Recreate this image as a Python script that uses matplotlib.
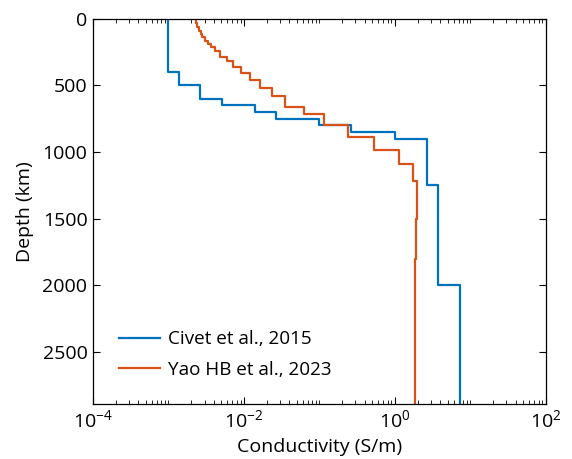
import numpy as np
import matplotlib
matplotlib.use("Agg")
import matplotlib.pyplot as plt
from matplotlib.ticker import LogLocator, NullFormatter, FixedLocator

plt.rcParams['font.family'] = ['Open Sans', 'DejaVu Sans']
plt.rcParams['mathtext.fontset'] = 'custom'
plt.rcParams['mathtext.rm'] = 'Open Sans'

# Civet et al., 2015: layer tops (km) and log10 conductivity (S/m)
civet_top = [0, 400, 500, 600, 650, 700, 750, 800, 850, 900, 1250, 2000]
civet_logsig = [-3.0, -2.86, -2.58, -2.29, -1.86, -1.58, -1.0, -0.58, 0.0, 0.43, 0.57, 0.857]

# Yao HB et al., 2023
yao_top = [0, 30, 60, 90, 115, 140, 165, 190, 215, 245, 285, 317, 360, 410, 460,
           522, 577, 660, 715, 800, 885, 985, 1092, 1215, 1500, 1800, 2200, 2600]
yao_logsig = [-2.64, -2.62, -2.60, -2.575, -2.55, -2.52, -2.48, -2.44, -2.38, -2.32,
              -2.22, -2.15, -2.04, -1.925, -1.79, -1.63, -1.45, -1.21, -0.94, -0.62,
              -0.28, 0.05, 0.245, 0.29, 0.28, 0.27, 0.265, 0.26]

bottom_depth = 2890


def staircase(tops, logsig):
    # vertical segment for each layer, joined by horizontal steps
    edges = list(tops) + [bottom_depth]
    x = np.repeat(10.0 ** np.array(logsig), 2)
    y = []
    for i in range(len(tops)):
        y += [edges[i], edges[i + 1]]
    return x, np.array(y)


fig = plt.figure(figsize=(5.72, 4.59), dpi=100)
ax = fig.add_axes([0.1626, 0.1198, 0.7918, 0.8395])

x, y = staircase(civet_top, civet_logsig)
ax.plot(x, y, color='#0072BD', lw=1.6, label='Civet et al., 2015')
x, y = staircase(yao_top, yao_logsig)
ax.plot(x, y, color='#D95319', lw=1.6, label='Yao HB et al., 2023')

ax.set_xscale('log')
ax.set_xlim(1e-4, 1e2)
ax.set_ylim(bottom_depth, 0)
ax.set_yticks([0, 500, 1000, 1500, 2000, 2500])

ax.xaxis.set_major_locator(FixedLocator([1e-4, 1e-2, 1e0, 1e2]))
ax.xaxis.set_minor_locator(LogLocator(base=10, subs=np.arange(1, 10), numticks=20))
ax.xaxis.set_minor_formatter(NullFormatter())
ax.set_xticklabels([r'$10^{-4}$', r'$10^{-2}$', r'$10^{0}$', r'$10^{2}$'])

ax.tick_params(which='both', direction='in', top=True, right=True, labelsize=14)
ax.tick_params(which='major', length=5, width=0.8, pad=4)
ax.tick_params(which='minor', length=3, width=0.6)
for s in ax.spines.values():
    s.set_linewidth(0.9)

ax.set_xlabel('Conductivity (S/m)', fontsize=14, labelpad=4)
ax.set_ylabel('Depth (km)', fontsize=14, labelpad=6)

ax.legend(loc='lower left', frameon=False, fontsize=13.6, handlelength=2.2,
          handletextpad=0.4, borderaxespad=0.95, labelspacing=0.65)

plt.savefig('out.png', dpi=100)
plt.close()
